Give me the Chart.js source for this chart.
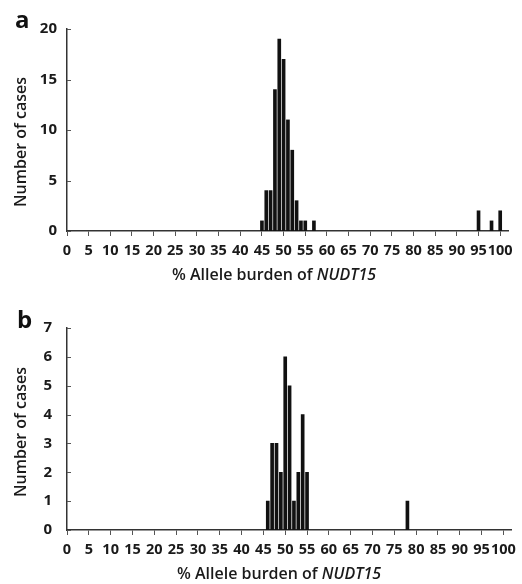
<!DOCTYPE html>
<html><head><meta charset="utf-8">
<script src="https://cdn.jsdelivr.net/npm/chart.js@4.4.1/dist/chart.umd.min.js"></script>
<style>
html,body{margin:0;padding:0;background:#fff;}
body{width:522px;height:584px;position:relative;overflow:hidden;}
#wa{position:absolute;left:0;top:0;width:522px;height:280px;}
#wb{position:absolute;left:0;top:280px;width:522px;height:304px;}
</style></head><body>
<div id="wa"><canvas id="ca"></canvas></div>
<div id="wb"><canvas id="cb"></canvas></div>
<script>
// ---- data ----
const xTickValues = [0,5,10,15,20,25,30,35,40,45,50,55,60,65,70,75,80,85,90,95,100];
const burdenA = [45,46,47,48,49,50,51,52,53,54,55,57,95,98,100];
const casesA  = [ 1, 4, 4,14,19,17,11, 8, 3, 1, 1, 1, 2, 1, 2];
const yTicksA = [0,5,10,15,20];
const burdenB = [46,47,48,49,50,51,52,53,54,55,78];
const casesB  = [ 1, 3, 3, 2, 6, 5, 1, 2, 4, 2, 1];
const yTicksB = [0,1,2,3,4,5,6,7];
const panelLetters = ['a','b'];
const yTitleText = 'Number of cases';
const xTitlePlain = '% Allele burden of ';
const xTitleItalic = 'NUDT15';

const FONT = '"Open Sans", "DejaVu Sans", sans-serif';

const decor = {
  id: 'decor',
  afterDraw(chart, args, o) {
    const ctx = chart.ctx, xs = chart.scales.x, ys = chart.scales.y;
    ctx.save();
    ctx.strokeStyle = '#555'; ctx.lineWidth = 1;
    ys.ticks.forEach(t => {
      const py = Math.round(ys.getPixelForValue(t.value)) + 0.5;
      ctx.beginPath(); ctx.moveTo(xs.left, py); ctx.lineTo(xs.left + 4, py); ctx.stroke();
    });
    ctx.fillStyle = '#111';
    ctx.font = 'bold 24px ' + FONT; ctx.textAlign = 'left'; ctx.textBaseline = 'alphabetic';
    ctx.fillText(o.letter, o.letterX, o.letterY);
    ctx.fillStyle = '#1a1a1a';
    ctx.save();
    ctx.translate(o.yTitleX, o.yTitleY); ctx.rotate(-Math.PI / 2);
    ctx.font = '600 16px ' + FONT; ctx.textAlign = 'center'; ctx.textBaseline = 'middle';
    ctx.fillText(yTitleText, 0, 0);
    ctx.restore();
    const fPlain = '600 16px ' + FONT, fIt = 'italic 600 16px ' + FONT;
    ctx.font = fPlain; const w1 = ctx.measureText(xTitlePlain).width;
    ctx.font = fIt; const w2 = ctx.measureText(xTitleItalic).width;
    const sx = o.xTitleX - (w1 + w2) / 2;
    ctx.textAlign = 'left'; ctx.textBaseline = 'middle';
    ctx.font = fPlain; ctx.fillText(xTitlePlain, sx, o.xTitleY);
    ctx.font = fIt; ctx.fillText(xTitleItalic, sx + w1, o.xTitleY);
    ctx.restore();
  }
};

function makeChart(canvasId, burden, cases, yTicks, cfg) {
  return new Chart(document.getElementById(canvasId), {
    type: 'bar',
    data: {
      datasets: [{
        data: burden.map((b, i) => ({ x: b, y: cases[i] })),
        backgroundColor: '#111',
        borderColor: '#555',
        borderWidth: 0,
        barThickness: 3
      }]
    },
    plugins: [decor],
    options: {
      responsive: true, maintainAspectRatio: false, animation: false, devicePixelRatio: 1,
      layout: { padding: { top: cfg.padTop, right: cfg.padRight, left: 0, bottom: 0 } },
      plugins: {
        legend: { display: false }, tooltip: { enabled: false },
        decor: cfg.decor
      },
      scales: {
        x: {
          type: 'linear', min: 0, max: 101.8, offset: false,
          grid: { display: true, offset: false, drawOnChartArea: false, drawTicks: true, tickLength: 5, color: '#555', lineWidth: 1 },
          border: { display: true, color: '#333', width: 1.5 },
          ticks: { font: { family: FONT, size: 14.5, weight: 'bold' }, color: '#1a1a1a', padding: 6, maxRotation: 0, autoSkip: false, includeBounds: false },
          afterBuildTicks: s => { s.ticks = xTickValues.map(v => ({ value: v })); },
          afterFit: s => { s.height = cfg.xAxisH; }
        },
        y: {
          type: 'linear', min: 0, max: yTicks[yTicks.length - 1],
          grid: { display: false, drawTicks: false },
          border: { display: true, color: '#333', width: 1.5 },
          ticks: { font: { family: FONT, size: 15, weight: 'bold' }, color: '#1a1a1a', padding: cfg.yPad },
          afterBuildTicks: s => { s.ticks = yTicks.map(v => ({ value: v })); },
          afterFit: s => { s.width = 67; }
        }
      }
    }
  });
}

makeChart('ca', burdenA, casesA, yTicksA, {
  padTop: 29, padRight: 14, xAxisH: 49, yPad: 10,
  decor: { letter: panelLetters[0], letterX: 15, letterY: 28, yTitleX: 21.5, yTitleY: 142, xTitleX: 274, xTitleY: 275 }
});
makeChart('cb', burdenB, casesB, yTicksB, {
  padTop: 48, padRight: 7, xAxisH: 54, yPad: 15,
  decor: { letter: panelLetters[1], letterX: 17, letterY: 48, yTitleX: 21.5, yTitleY: 152, xTitleX: 279, xTitleY: 294 }
});
</script>
</body></html>
